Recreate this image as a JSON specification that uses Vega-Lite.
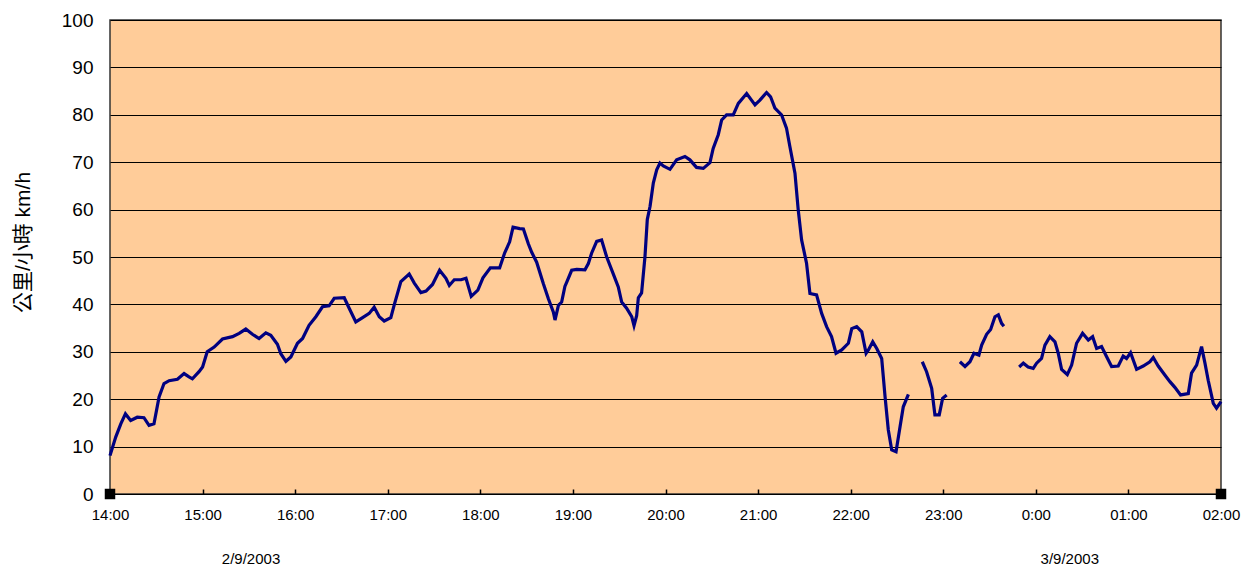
{
  "$schema": "https://vega.github.io/schema/vega-lite/v6.json",
  "width": 1111,
  "height": 474,
  "autosize": "none",
  "padding": {"left": 110, "top": 20, "right": 32, "bottom": 77},
  "background": "white",
  "config": {
    "view": {"fill": "#FFCC99", "stroke": "#333333", "strokeWidth": 1.5},
    "font": "Liberation Sans"
  },
  "datasets": {
    "speed": [
      {"t": 0, "kmh": 8.1, "seg": 1}, {"t": 3.7, "kmh": 12, "seg": 1}, {"t": 7, "kmh": 14.8, "seg": 1}, {"t": 10, "kmh": 16.9, "seg": 1},
      {"t": 13.4, "kmh": 15.5, "seg": 1}, {"t": 17.7, "kmh": 16.2, "seg": 1}, {"t": 22, "kmh": 16.1, "seg": 1}, {"t": 25.3, "kmh": 14.5, "seg": 1},
      {"t": 28.5, "kmh": 14.8, "seg": 1}, {"t": 31.8, "kmh": 20.5, "seg": 1}, {"t": 35, "kmh": 23.3, "seg": 1}, {"t": 38.3, "kmh": 23.9, "seg": 1},
      {"t": 43.7, "kmh": 24.2, "seg": 1}, {"t": 48, "kmh": 25.4, "seg": 1}, {"t": 51.2, "kmh": 24.7, "seg": 1}, {"t": 53.4, "kmh": 24.3, "seg": 1},
      {"t": 57.7, "kmh": 25.8, "seg": 1}, {"t": 60, "kmh": 26.8, "seg": 1}, {"t": 63, "kmh": 30, "seg": 1}, {"t": 67.5, "kmh": 31, "seg": 1},
      {"t": 72.9, "kmh": 32.7, "seg": 1}, {"t": 79.4, "kmh": 33.2, "seg": 1}, {"t": 83.7, "kmh": 33.9, "seg": 1}, {"t": 88, "kmh": 34.8, "seg": 1},
      {"t": 92.3, "kmh": 33.7, "seg": 1}, {"t": 96.6, "kmh": 32.8, "seg": 1}, {"t": 101, "kmh": 34, "seg": 1}, {"t": 104.2, "kmh": 33.5, "seg": 1},
      {"t": 108.5, "kmh": 31.6, "seg": 1}, {"t": 110.7, "kmh": 29.6, "seg": 1}, {"t": 114, "kmh": 28, "seg": 1}, {"t": 117.2, "kmh": 28.9, "seg": 1},
      {"t": 121.5, "kmh": 31.8, "seg": 1}, {"t": 124.8, "kmh": 32.8, "seg": 1}, {"t": 129, "kmh": 35.6, "seg": 1}, {"t": 133.4, "kmh": 37.4, "seg": 1},
      {"t": 137.7, "kmh": 39.5, "seg": 1}, {"t": 142, "kmh": 39.7, "seg": 1}, {"t": 145.3, "kmh": 41.3, "seg": 1}, {"t": 151.8, "kmh": 41.4, "seg": 1},
      {"t": 155, "kmh": 39.2, "seg": 1}, {"t": 159.3, "kmh": 36.3, "seg": 1}, {"t": 163.7, "kmh": 37.2, "seg": 1}, {"t": 168, "kmh": 38.1, "seg": 1},
      {"t": 171.2, "kmh": 39.4, "seg": 1}, {"t": 174.5, "kmh": 37.4, "seg": 1}, {"t": 177.7, "kmh": 36.5, "seg": 1}, {"t": 182, "kmh": 37.2, "seg": 1},
      {"t": 184.2, "kmh": 39.9, "seg": 1}, {"t": 188.5, "kmh": 44.8, "seg": 1}, {"t": 193.9, "kmh": 46.4, "seg": 1}, {"t": 197.2, "kmh": 44.5, "seg": 1},
      {"t": 201.5, "kmh": 42.5, "seg": 1}, {"t": 204.8, "kmh": 42.8, "seg": 1}, {"t": 209, "kmh": 44.2, "seg": 1}, {"t": 213.6, "kmh": 47.2, "seg": 1},
      {"t": 217.7, "kmh": 45.5, "seg": 1}, {"t": 219.9, "kmh": 44, "seg": 1}, {"t": 223.1, "kmh": 45.2, "seg": 1}, {"t": 227.5, "kmh": 45.2, "seg": 1},
      {"t": 230.7, "kmh": 45.5, "seg": 1}, {"t": 234.1, "kmh": 41.7, "seg": 1}, {"t": 238.4, "kmh": 43, "seg": 1}, {"t": 241.7, "kmh": 45.6, "seg": 1},
      {"t": 246.5, "kmh": 47.7, "seg": 1}, {"t": 252.5, "kmh": 47.7, "seg": 1}, {"t": 255.8, "kmh": 50.9, "seg": 1}, {"t": 259, "kmh": 53.2, "seg": 1},
      {"t": 261.2, "kmh": 56.3, "seg": 1}, {"t": 265.5, "kmh": 56, "seg": 1}, {"t": 267.9, "kmh": 55.9, "seg": 1}, {"t": 271.1, "kmh": 52.8, "seg": 1},
      {"t": 273.3, "kmh": 51, "seg": 1}, {"t": 276.5, "kmh": 48.9, "seg": 1}, {"t": 280.8, "kmh": 44.4, "seg": 1}, {"t": 284.1, "kmh": 41.2, "seg": 1},
      {"t": 287.3, "kmh": 38.4, "seg": 1}, {"t": 288.4, "kmh": 36.7, "seg": 1}, {"t": 290.6, "kmh": 39.8, "seg": 1}, {"t": 292.7, "kmh": 40.5, "seg": 1},
      {"t": 294.8, "kmh": 43.8, "seg": 1}, {"t": 296, "kmh": 44.7, "seg": 1}, {"t": 299.2, "kmh": 47.2, "seg": 1}, {"t": 302.5, "kmh": 47.4, "seg": 1},
      {"t": 307.8, "kmh": 47.3, "seg": 1}, {"t": 310, "kmh": 48.6, "seg": 1}, {"t": 312.1, "kmh": 50.8, "seg": 1}, {"t": 315.4, "kmh": 53.3, "seg": 1},
      {"t": 318.6, "kmh": 53.6, "seg": 1}, {"t": 321.9, "kmh": 50, "seg": 1}, {"t": 326.2, "kmh": 46.4, "seg": 1}, {"t": 329.4, "kmh": 43.7, "seg": 1},
      {"t": 331.6, "kmh": 40.5, "seg": 1}, {"t": 334.8, "kmh": 39.2, "seg": 1}, {"t": 338.1, "kmh": 37.4, "seg": 1}, {"t": 339.6, "kmh": 35.5, "seg": 1},
      {"t": 341.3, "kmh": 37.6, "seg": 1}, {"t": 342.4, "kmh": 41.4, "seg": 1}, {"t": 344.5, "kmh": 42.4, "seg": 1}, {"t": 346.7, "kmh": 50.1, "seg": 1},
      {"t": 348.2, "kmh": 57.9, "seg": 1}, {"t": 350, "kmh": 60.7, "seg": 1}, {"t": 352.1, "kmh": 65.6, "seg": 1}, {"t": 354.3, "kmh": 68.4, "seg": 1},
      {"t": 356.4, "kmh": 69.8, "seg": 1}, {"t": 358.6, "kmh": 69.2, "seg": 1}, {"t": 362.9, "kmh": 68.5, "seg": 1}, {"t": 367.2, "kmh": 70.5, "seg": 1},
      {"t": 372.6, "kmh": 71.2, "seg": 1}, {"t": 375.8, "kmh": 70.5, "seg": 1}, {"t": 380.1, "kmh": 68.9, "seg": 1}, {"t": 384.5, "kmh": 68.7, "seg": 1},
      {"t": 388.8, "kmh": 69.9, "seg": 1}, {"t": 390.9, "kmh": 72.9, "seg": 1}, {"t": 394.2, "kmh": 75.8, "seg": 1}, {"t": 396.4, "kmh": 78.9, "seg": 1},
      {"t": 399.6, "kmh": 80, "seg": 1}, {"t": 403.9, "kmh": 80, "seg": 1}, {"t": 407.2, "kmh": 82.4, "seg": 1}, {"t": 412.6, "kmh": 84.5, "seg": 1},
      {"t": 418, "kmh": 82.1, "seg": 1}, {"t": 421.2, "kmh": 83.1, "seg": 1}, {"t": 425.5, "kmh": 84.7, "seg": 1}, {"t": 428.1, "kmh": 83.8, "seg": 1},
      {"t": 430.9, "kmh": 81.4, "seg": 1}, {"t": 435.2, "kmh": 80, "seg": 1}, {"t": 438.4, "kmh": 77.2, "seg": 1}, {"t": 440.6, "kmh": 73.3, "seg": 1},
      {"t": 443.9, "kmh": 67.7, "seg": 1}, {"t": 446, "kmh": 60, "seg": 1}, {"t": 448.2, "kmh": 53.6, "seg": 1}, {"t": 451.4, "kmh": 48.7, "seg": 1},
      {"t": 453.6, "kmh": 42.3, "seg": 1}, {"t": 457.9, "kmh": 42, "seg": 1}, {"t": 461.2, "kmh": 38.1, "seg": 1}, {"t": 464.4, "kmh": 35.3, "seg": 1},
      {"t": 467.6, "kmh": 33.2, "seg": 1}, {"t": 470.5, "kmh": 29.7, "seg": 1}, {"t": 474.2, "kmh": 30.4, "seg": 1}, {"t": 478.5, "kmh": 31.8, "seg": 1},
      {"t": 480.7, "kmh": 34.9, "seg": 1}, {"t": 483.9, "kmh": 35.3, "seg": 1}, {"t": 487.2, "kmh": 34.2, "seg": 1}, {"t": 490, "kmh": 29.7, "seg": 1},
      {"t": 491.5, "kmh": 30.4, "seg": 1}, {"t": 494.3, "kmh": 32.1, "seg": 1}, {"t": 496.9, "kmh": 30.7, "seg": 1}, {"t": 500.1, "kmh": 28.6, "seg": 1},
      {"t": 502.3, "kmh": 20.5, "seg": 1}, {"t": 504.4, "kmh": 13.5, "seg": 1}, {"t": 506.6, "kmh": 9.3, "seg": 1}, {"t": 509.4, "kmh": 8.9, "seg": 1},
      {"t": 512, "kmh": 14.2, "seg": 1}, {"t": 514.1, "kmh": 18.4, "seg": 1}, {"t": 517.4, "kmh": 21, "seg": 1},
      {"t": 526.4, "kmh": 27.9, "seg": 2}, {"t": 529.2, "kmh": 25.8, "seg": 2}, {"t": 532.5, "kmh": 22.3, "seg": 2}, {"t": 534.6, "kmh": 16.7, "seg": 2},
      {"t": 537.4, "kmh": 16.7, "seg": 2}, {"t": 539.6, "kmh": 20.2, "seg": 2}, {"t": 542.2, "kmh": 20.9, "seg": 2},
      {"t": 550.8, "kmh": 27.9, "seg": 3}, {"t": 554.1, "kmh": 26.9, "seg": 3}, {"t": 557.3, "kmh": 27.9, "seg": 3}, {"t": 559.9, "kmh": 29.7, "seg": 3},
      {"t": 563.1, "kmh": 29.3, "seg": 3}, {"t": 564.9, "kmh": 31.4, "seg": 3}, {"t": 568.1, "kmh": 33.7, "seg": 3}, {"t": 570.7, "kmh": 34.7, "seg": 3},
      {"t": 573.5, "kmh": 37.4, "seg": 3}, {"t": 575.7, "kmh": 37.8, "seg": 3}, {"t": 577.8, "kmh": 36, "seg": 3}, {"t": 579.3, "kmh": 35.4, "seg": 3},
      {"t": 589.2, "kmh": 26.8, "seg": 4}, {"t": 591.9, "kmh": 27.6, "seg": 4}, {"t": 595, "kmh": 26.8, "seg": 4}, {"t": 598.3, "kmh": 26.5, "seg": 4},
      {"t": 600.5, "kmh": 27.6, "seg": 4}, {"t": 603.7, "kmh": 28.6, "seg": 4}, {"t": 605.9, "kmh": 31.4, "seg": 4}, {"t": 609.1, "kmh": 33.2, "seg": 4},
      {"t": 612.4, "kmh": 32.1, "seg": 4}, {"t": 614.5, "kmh": 29.7, "seg": 4}, {"t": 616.7, "kmh": 26.3, "seg": 4}, {"t": 620.4, "kmh": 25.2, "seg": 4},
      {"t": 623.2, "kmh": 27.2, "seg": 4}, {"t": 626.4, "kmh": 31.8, "seg": 4}, {"t": 630.3, "kmh": 33.9, "seg": 4}, {"t": 634, "kmh": 32.5, "seg": 4},
      {"t": 636.8, "kmh": 33.2, "seg": 4}, {"t": 639.4, "kmh": 30.7, "seg": 4}, {"t": 642.6, "kmh": 31.1, "seg": 4}, {"t": 645.8, "kmh": 29, "seg": 4},
      {"t": 649.1, "kmh": 26.9, "seg": 4}, {"t": 653.4, "kmh": 27, "seg": 4}, {"t": 656.6, "kmh": 29.1, "seg": 4}, {"t": 658.8, "kmh": 28.6, "seg": 4},
      {"t": 661.4, "kmh": 29.8, "seg": 4}, {"t": 665.3, "kmh": 26.3, "seg": 4}, {"t": 669.6, "kmh": 27, "seg": 4}, {"t": 673.9, "kmh": 27.9, "seg": 4},
      {"t": 676.1, "kmh": 28.8, "seg": 4}, {"t": 679.3, "kmh": 27, "seg": 4}, {"t": 683.6, "kmh": 25.1, "seg": 4}, {"t": 686.9, "kmh": 23.7, "seg": 4},
      {"t": 690.1, "kmh": 22.5, "seg": 4}, {"t": 693.8, "kmh": 20.9, "seg": 4}, {"t": 698.8, "kmh": 21.2, "seg": 4}, {"t": 700.9, "kmh": 25.5, "seg": 4},
      {"t": 704.2, "kmh": 27.2, "seg": 4}, {"t": 707.4, "kmh": 31.1, "seg": 4}, {"t": 709.6, "kmh": 27.6, "seg": 4}, {"t": 711.7, "kmh": 24, "seg": 4},
      {"t": 715, "kmh": 19.1, "seg": 4}, {"t": 717.1, "kmh": 18.1, "seg": 4}, {"t": 720, "kmh": 19.5, "seg": 4}
    ],
    "dates": [
      {"t": 91.4, "kmh": -13.7, "label": "2/9/2003"},
      {"t": 622, "kmh": -13.7, "label": "3/9/2003"}
    ],
    "corners": [
      {"t": 0, "kmh": 0},
      {"t": 720, "kmh": 0}
    ]
  },
  "layer": [
    {
      "data": {"name": "speed"},
      "mark": {"type": "line", "color": "#000080", "strokeWidth": 3.2, "strokeJoin": "miter"},
      "encoding": {
        "x": {
          "field": "t", "type": "quantitative",
          "scale": {"domain": [0, 720], "nice": false, "zero": false},
          "axis": {
            "title": null,
            "values": [0, 60, 120, 180, 240, 300, 360, 420, 480, 540, 600, 660, 720],
            "labelExpr": "datum.value == 600 ? '0:00' : ((((14 + datum.value / 60) % 24) < 10 ? '0' : '') + ((14 + datum.value / 60) % 24) + ':00')",
            "grid": false, "domain": false,
            "ticks": true, "tickSize": -5, "tickColor": "#000000", "tickWidth": 1.5,
            "labelFontSize": 15, "labelColor": "#000000", "labelPadding": 18,
            "labelFont": "Liberation Sans", "labelFlush": false, "labelOverlap": false
          }
        },
        "y": {
          "field": "kmh", "type": "quantitative",
          "scale": {"domain": [0, 100], "nice": false},
          "axis": {
            "title": "公里/小時 km/h",
            "titleFont": "'Liberation Sans', 'Noto Sans CJK TC'",
            "titleFontSize": 21, "titleFontWeight": "normal", "titleColor": "#000000",
            "titleX": -87, "titleY": 222, "titleAngle": -90, "titleAlign": "center", "titleBaseline": "middle",
            "values": [0, 10, 20, 30, 40, 50, 60, 70, 80, 90, 100],
            "grid": true, "gridColor": "#000000", "gridWidth": 1.2, "gridOpacity": 1,
            "ticks": false, "domain": false,
            "labelFontSize": 19, "labelColor": "#000000", "labelPadding": 17,
            "labelFont": "Liberation Sans", "labelFlush": false
          }
        },
        "detail": {"field": "seg", "type": "nominal"}
      }
    },
    {
      "data": {"name": "dates"},
      "mark": {"type": "text", "fontSize": 15, "font": "Liberation Sans", "color": "#000000", "baseline": "middle", "align": "center"},
      "encoding": {
        "x": {"field": "t", "type": "quantitative"},
        "y": {"field": "kmh", "type": "quantitative"},
        "text": {"field": "label", "type": "nominal"}
      }
    },
    {
      "data": {"name": "corners"},
      "mark": {"type": "square", "filled": true, "color": "#000000", "size": 110, "opacity": 1},
      "encoding": {
        "x": {"field": "t", "type": "quantitative"},
        "y": {"field": "kmh", "type": "quantitative"}
      }
    }
  ]
}
